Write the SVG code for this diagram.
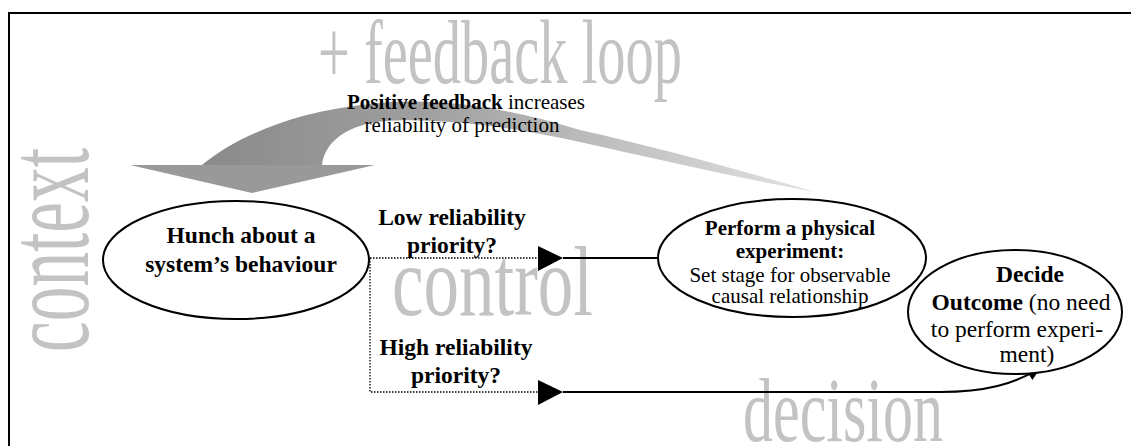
<svg xmlns="http://www.w3.org/2000/svg" width="1131" height="446" viewBox="0 0 1131 446">
<style>
text{font-family:'Liberation Serif','DejaVu Serif',serif}
.bg{fill:#c3c3c3}
.t{fill:#000;text-anchor:middle}
.b{font-weight:bold}
.node{fill:#fff;stroke:#000;stroke-width:2}
.dot{fill:none;stroke:#000;stroke-width:1.3;stroke-dasharray:1.5 1.5}
.line{fill:none;stroke:#000;stroke-width:2}
.head{fill:#000}
</style>
<defs>
<linearGradient id="fb" gradientUnits="userSpaceOnUse" x1="200" y1="0" x2="815" y2="0">
<stop offset="0" stop-color="#8a8a8a"/>
<stop offset="0.35" stop-color="#9e9e9e"/>
<stop offset="1" stop-color="#e2e2e2"/>
</linearGradient>
<marker id="ah" markerUnits="userSpaceOnUse" markerWidth="14" markerHeight="12" refX="13" refY="6" orient="auto">
<path d="M0,0 L14,6 L0,12 Z" fill="#000"/>
</marker>
</defs>

<g id="frame">
<path d="M9,446 L9,13 L1131,13" fill="none" stroke="#000" stroke-width="2"/>
</g>

<g id="background-labels">
<text class="bg" font-family="Liberation Serif, serif" x="318" y="83" font-size="92" textLength="364" lengthAdjust="spacingAndGlyphs">+ feedback loop</text>
<text class="bg" font-family="Liberation Serif, serif" transform="translate(88,352) rotate(-90)" x="0" y="0" font-size="118" textLength="204" lengthAdjust="spacingAndGlyphs">context</text>
<text class="bg" font-family="Liberation Serif, serif" x="392" y="315" font-size="100" textLength="201" lengthAdjust="spacingAndGlyphs">control</text>
<text class="bg" font-family="Liberation Serif, serif" x="743" y="441" font-size="92" textLength="200" lengthAdjust="spacingAndGlyphs">decision</text>
</g>

<g id="feedback-arrow">
<path d="M202,165 C235,138 290,112 370,104 C430,97 500,105 580,130 C660,148 740,170 815,192 C740,178 660,160 580,142 C500,124 430,118 385,121 C350,124 325,140 322,165 Z" fill="url(#fb)"/>
<polygon points="130,165 375,165 252,193" fill="#999999"/>
<text class="t" font-family="Liberation Serif, serif" font-size="21"><tspan x="466" y="109"><tspan class="b">Positive feedback</tspan> increases</tspan><tspan x="462" y="132">reliability of prediction</tspan></text>
</g>

<g id="connectors">
<path class="dot" d="M370,258 L538,258"/>
<path class="dot" d="M370,258 L370,392 L538,392"/>
<polygon class="head" points="538,246 538,271 563,258"/>
<polygon class="head" points="538,380 538,405 563,392"/>
<path class="line" d="M563,258 L659,258"/>
<path class="line" d="M563,392 L940,392 C985,392 1015,384 1040,368" marker-end="url(#ah)"/>
<text class="t b" font-family="Liberation Serif, serif" font-size="23.5"><tspan x="452" y="225">Low reliability</tspan><tspan x="452" y="253">priority?</tspan></text>
<text class="t b" font-family="Liberation Serif, serif" font-size="23.5"><tspan x="456" y="355">High reliability</tspan><tspan x="456" y="383">priority?</tspan></text>
</g>

<g id="node-hunch">
<ellipse class="node" cx="236" cy="260" rx="133" ry="59"/>
<text class="t b" font-family="Liberation Serif, serif" font-size="23.5"><tspan x="241" y="243">Hunch about a</tspan><tspan x="241" y="272">system’s behaviour</tspan></text>
</g>

<g id="node-experiment">
<ellipse class="node" cx="792" cy="258" rx="134" ry="59"/>
<text class="t" font-family="Liberation Serif, serif" font-size="21"><tspan class="b" x="790" y="235">Perform a physical</tspan><tspan class="b" x="790" y="258">experiment:</tspan><tspan x="790" y="282">Set stage for observable</tspan><tspan x="790" y="303">causal relationship</tspan></text>
</g>

<g id="node-decide">
<ellipse class="node" cx="1015" cy="312" rx="107" ry="62"/>
<text class="t" font-family="Liberation Serif, serif" font-size="23.5"><tspan class="b" x="1030" y="282">Decide</tspan><tspan x="1021" y="310"><tspan class="b">Outcome</tspan> (no need</tspan><tspan x="1017" y="337">to perform experi-</tspan><tspan x="1027" y="362">ment)</tspan></text>
</g>
</svg>
